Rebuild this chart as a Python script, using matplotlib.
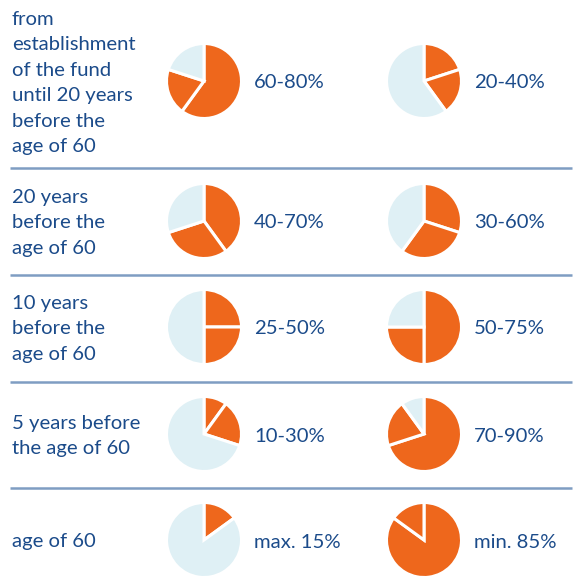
import matplotlib
matplotlib.use("Agg")
import matplotlib.pyplot as plt

row_labels = [
    "from\nestablishment\nof the fund\nuntil 20 years\nbefore the\nage of 60",
    "20 years\nbefore the\nage of 60",
    "10 years\nbefore the\nage of 60",
    "5 years before\nthe age of 60",
    "age of 60",
]
left_min = [60, 40, 25, 10, 0]
left_max = [80, 70, 50, 30, 15]
right_min = [20, 30, 50, 70, 85]
right_max = [40, 60, 75, 90, 100]
left_text = ["60-80%", "40-70%", "25-50%", "10-30%", "max. 15%"]
right_text = ["20-40%", "30-60%", "50-75%", "70-90%", "min. 85%"]

ORANGE = "#ee671c"
LIGHT = "#dff0f5"
TEXT = "#1b4b8a"
LINE = "#7f9dc2"

W, H = 577, 586
fig = plt.figure(figsize=(W / 100, H / 100), dpi=100)
ax = fig.add_axes([0, 0, 1, 1])
plt.rcParams["font.family"] = ["Lato", "DejaVu Sans"]

row_y = [81, 221, 327, 434, 540]      # pixel centre of each row (from top)
text_y = [83, 223, 329, 436, 542]
sep_y = [168, 275, 382, 488]
pie_x = [204, 424]
radius = 37.5


def draw_pie(cx, cy, lo, hi):
    vals = [lo, hi - lo, 100 - hi]
    cols = [ORANGE, ORANGE, LIGHT]
    keep = [(v, c) for v, c in zip(vals, cols) if v > 0]
    ax.pie([v for v, _ in keep], colors=[c for _, c in keep],
           center=(cx, H - cy), radius=radius, startangle=90,
           counterclock=False, frame=True,
           wedgeprops=dict(edgecolor="white", linewidth=2.2))


for i in range(len(row_labels)):
    y = row_y[i]
    ty = text_y[i]
    draw_pie(pie_x[0], y, left_min[i], left_max[i])
    draw_pie(pie_x[1], y, right_min[i], right_max[i])
    ax.text(254, H - ty, left_text[i], color=TEXT, fontsize=14.6,
            va="center", ha="left")
    ax.text(474, H - ty, right_text[i], color=TEXT, fontsize=14.6,
            va="center", ha="left")
    ax.text(12, H - ty, row_labels[i], color=TEXT, fontsize=14.6,
            va="center", ha="left", linespacing=1.6)

for y in sep_y:
    ax.plot([10, 572], [H - y, H - y], color=LINE, linewidth=1.8,
            solid_capstyle="butt")

ax.set_xlim(0, W)
ax.set_ylim(0, H)
ax.set_aspect("auto")
ax.axis("off")

fig.savefig("out.png", dpi=100)
